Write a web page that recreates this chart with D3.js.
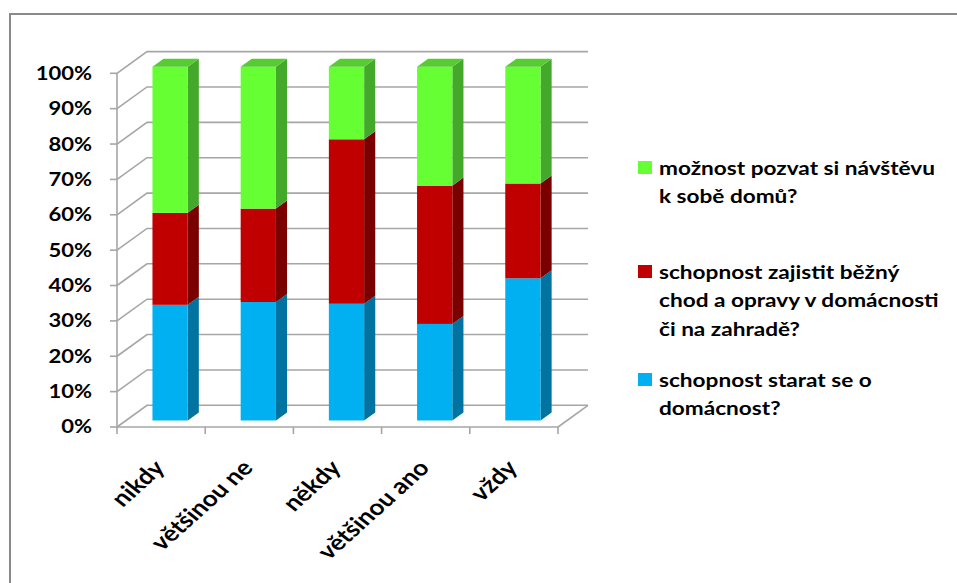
<!DOCTYPE html>
<html><head><meta charset="utf-8">
<script src="https://cdn.jsdelivr.net/npm/d3@7"></script>
<style>html,body{margin:0;padding:0;background:#fff;}svg{display:block;}</style>
</head><body>
<svg id="c" width="957" height="583"></svg>
<script>
const categories = ["nikdy", "většinou ne", "někdy", "většinou ano", "vždy"];
const seriesNames = [
  "schopnost starat se o domácnost?",
  "schopnost zajistit běžný chod a opravy v domácnosti či na zahradě?",
  "možnost pozvat si návštěvu k sobě domů?"
];
const blueValues  = [32.7, 33.5, 33.0, 27.3, 40.2];
const redValues   = [26.0, 26.4, 46.5, 39.1, 26.8];
const greenValues = [41.3, 40.1, 20.5, 33.6, 33.0];
const yTicks = [0,10,20,30,40,50,60,70,80,90,100];
const legendLines = [
  ["možnost pozvat si návštěvu", "k sobě domů?"],
  ["schopnost zajistit běžný", "chod a opravy v domácnosti", "či na zahradě?"],
  ["schopnost starat se o", "domácnost?"]
];

const svg = d3.select("#c");
const FONT = "Lato, 'Open Sans', sans-serif";
const SX = 1.19;
const front = {left:117, right:558, bottom:427, top:73.3};
const DX = 30, DY = -21.7;
const d0 = 0.3, d1 = 0.67;

const x = d3.scaleBand().domain(categories).range([front.left, front.right]).paddingInner(0).paddingOuter(0);
const y = d3.scaleLinear().domain([0,100]).range([front.bottom, front.top]);

// frame
svg.append("rect").attr("x",10).attr("y",14).attr("width",980).attr("height",600)
  .attr("fill","none").attr("stroke","#8a8a8a").attr("stroke-width",2);

const grid = svg.append("g").attr("stroke","#a6a6a6").attr("stroke-width",1.6).attr("fill","none");
yTicks.forEach(t => {
  const yy = y(t);
  grid.append("polyline").attr("points",
    `${front.left},${yy} ${front.left+DX},${yy+DY} ${front.right+DX},${yy+DY}`);
  grid.append("line").attr("x1",front.left-7).attr("x2",front.left).attr("y1",yy).attr("y2",yy);
});
grid.append("line").attr("x1",front.left).attr("x2",front.left).attr("y1",y(0)).attr("y2",y(100));
grid.append("line").attr("x1",front.left).attr("x2",front.right).attr("y1",y(0)).attr("y2",y(0));
grid.append("line").attr("x1",front.right).attr("x2",front.right+DX).attr("y1",y(0)).attr("y2",y(0)+DY);
const bounds = categories.map(c => x(c)).concat([front.right]);
bounds.forEach(bx => {
  grid.append("line").attr("x1",bx).attr("x2",bx).attr("y1",y(0)).attr("y2",y(0)+7);
});

// y labels
svg.append("g").selectAll("text").data(yTicks).join("text")
  .attr("transform", d => `translate(92,${y(d)}) scale(${SX},1)`)
  .attr("dy","0.35em")
  .attr("text-anchor","end").attr("font-family",FONT).attr("font-weight","bold")
  .attr("font-size",18.5).attr("fill","#000").text(d => d + "%");

// bars
const series = [
  {vals: blueValues,  front:"#00b0f0", side:"#0073a0", top:"#0090c8"},
  {vals: redValues,   front:"#c00000", side:"#7a0000", top:"#a00000"},
  {vals: greenValues, front:"#66ff33", side:"#44a82a", top:"#55cc30"}
];
const bw = x.bandwidth()*0.4;
const bars = svg.append("g");
categories.forEach((c, i) => {
  const cx = x(c) + x.bandwidth()/2;
  let base = 0;
  series.forEach((s, si) => {
    const v = s.vals[i];
    const lo = base, hi = base + v;
    base = hi;
    const fx0 = cx - bw/2 + d0*DX, fx1 = cx + bw/2 + d0*DX;
    const yl = y(lo) + d0*DY, yh = y(hi) + d0*DY;
    const ddx = (d1-d0)*DX, ddy = (d1-d0)*DY;
    bars.append("polygon").attr("fill", s.side)
      .attr("points", `${fx1},${yh} ${fx1+ddx},${yh+ddy} ${fx1+ddx},${yl+ddy} ${fx1},${yl}`);
    bars.append("rect").attr("fill", s.front)
      .attr("x", fx0).attr("y", yh).attr("width", fx1-fx0).attr("height", yl-yh);
    if (si === series.length-1) {
      bars.append("polygon").attr("fill", s.top)
        .attr("points", `${fx0},${yh} ${fx1},${yh} ${fx1+ddx},${yh+ddy} ${fx0+ddx},${yh+ddy}`);
    }
  });
});

// x labels
svg.append("g").selectAll("text").data(categories).join("text")
  .attr("transform", d => `translate(${x(d)+x.bandwidth()/2+5},${469}) scale(${SX},1) rotate(-47)`)
  .attr("text-anchor","end").attr("font-family",FONT).attr("font-weight","bold")
  .attr("font-size",22).attr("fill","#000").text(d => d);

// legend
const legColors = ["#66ff33", "#c00000", "#00b0f0"];
const legStartY = [168, 272, 380];
const lg = svg.append("g");
legendLines.forEach((lines, k) => {
  lg.append("rect").attr("x",638).attr("y",legStartY[k]-7).attr("width",14).attr("height",13).attr("fill",legColors[k]);
  lines.forEach((ln, j) => {
    lg.append("text").attr("transform", `translate(659,${legStartY[k] + j*28.8}) scale(${SX},1)`)
      .attr("dy","0.35em")
      .attr("font-family",FONT).attr("font-weight","bold").attr("font-size",19)
      .attr("fill","#000").text(ln);
  });
});
</script>
</body></html>
